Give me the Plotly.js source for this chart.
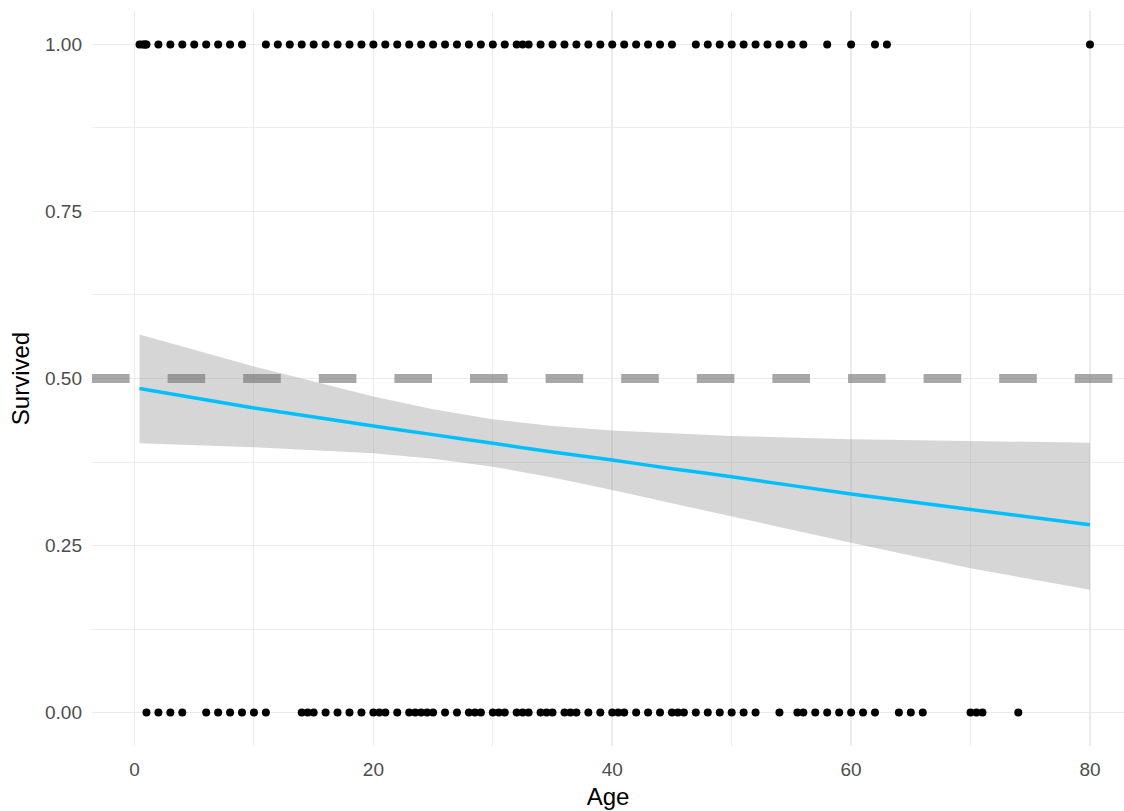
<!DOCTYPE html>
<html>
<head>
<meta charset="utf-8">
<script src="https://cdn.plot.ly/plotly-3.0.1.min.js"></script>
<style>
  html, body { margin: 0; padding: 0; background: #ffffff; overflow: hidden; }
  #chart { width: 1124px; height: 811px; }
</style>
</head>
<body>
<div id="chart"></div>
<script>
// Observed passengers: age of survivors (Survived = 1)
const survivedAges = [0.42, 0.67, 0.83, 0.92, 1, 2, 3, 4, 5, 6, 7, 8, 9,
  11, 12, 13, 14, 15, 16, 17, 18, 19, 20, 21, 22, 23, 24, 25, 26, 27, 28, 29, 30, 31,
  32, 32.5, 33, 34, 35, 36, 37, 38, 39, 40, 41, 42, 43, 44, 45,
  47, 48, 49, 50, 51, 52, 53, 54, 55, 56, 58, 60, 62, 63, 80];
const survivedVals = survivedAges.map(() => 1);

// Observed passengers: age of non-survivors (Survived = 0)
const diedAges = [1, 2, 3, 4, 6, 7, 8, 9, 10, 11, 14, 14.5, 15, 16, 17, 18, 19,
  20, 20.5, 21, 22, 23, 23.5, 24, 24.5, 25, 26, 27, 28, 28.5, 29, 30, 30.5, 31,
  32, 32.5, 33, 34, 34.5, 35, 36, 36.5, 37, 38, 39, 40, 40.5, 41, 42, 43, 44,
  45, 45.5, 46, 47, 48, 49, 50, 51, 52, 54, 55.5, 56, 57, 58, 59, 60, 61, 62,
  64, 65, 66, 70, 70.5, 71, 74];
const diedVals = diedAges.map(() => 0);

// Logistic fit and its confidence band
const fitAges  = [0.42, 10, 20, 25, 30, 35, 40, 45, 50, 60, 70, 80];
const fitProb  = [0.485, 0.456, 0.429, 0.416, 0.403, 0.390, 0.378, 0.365, 0.353, 0.327, 0.304, 0.281];
const fitUpper = [0.566, 0.518, 0.473, 0.454, 0.439, 0.429, 0.422, 0.418, 0.414, 0.409, 0.407, 0.404];
const fitLower = [0.403, 0.397, 0.388, 0.380, 0.368, 0.352, 0.333, 0.313, 0.293, 0.254, 0.216, 0.184];

const refLevel = 0.5;
const xTicks = [0, 20, 40, 60, 80];
const yTicks = [0, 0.25, 0.5, 0.75, 1];
const yTickText = ['0.00', '0.25', '0.50', '0.75', '1.00'];

const traces = [
  { x: survivedAges, y: survivedVals, type: 'scatter', mode: 'markers',
    marker: { color: '#000000', size: 8 }, hoverinfo: 'x+y', showlegend: false },
  { x: diedAges, y: diedVals, type: 'scatter', mode: 'markers',
    marker: { color: '#000000', size: 8 }, hoverinfo: 'x+y', showlegend: false },
  { x: fitAges, y: fitLower, type: 'scatter', mode: 'lines',
    line: { width: 0, color: 'rgba(0,0,0,0)' }, hoverinfo: 'skip', showlegend: false },
  { x: fitAges, y: fitUpper, type: 'scatter', mode: 'lines', fill: 'tonexty',
    fillcolor: 'rgba(153,153,153,0.4)',
    line: { width: 0, color: 'rgba(0,0,0,0)' }, hoverinfo: 'skip', showlegend: false },
  { x: fitAges, y: fitProb, type: 'scatter', mode: 'lines',
    line: { color: '#00BFFF', width: 3.5, shape: 'spline', smoothing: 0.6 }, showlegend: false }
];

const gridMajor = '#EBEBEB';
const layout = {
  width: 1124, height: 811,
  margin: { l: 91.5, r: 0, t: 10.5, b: 64.5, pad: 0 },
  paper_bgcolor: '#ffffff', plot_bgcolor: '#ffffff',
  font: { family: 'Arial, "Liberation Sans", sans-serif', color: '#4D4D4D' },
  showlegend: false,
  xaxis: {
    range: [-3.56, 82.85], tickvals: xTicks, ticktext: xTicks.map(String),
    showgrid: true, gridcolor: gridMajor, gridwidth: 1.5,
    minor: { dtick: 10, tick0: 0, showgrid: true, gridcolor: gridMajor, gridwidth: 0.9 },
    zeroline: false, showline: false, ticks: '',
    tickfont: { size: 19, color: '#4D4D4D' },
    ticklabelstandoff: 10,
    title: { text: 'Age', font: { size: 24, color: '#000000' }, standoff: 9 },
    automargin: false
  },
  yaxis: {
    range: [-0.05, 1.05], tickvals: yTicks, ticktext: yTickText,
    showgrid: true, gridcolor: gridMajor, gridwidth: 1.5,
    minor: { dtick: 0.125, tick0: 0, showgrid: true, gridcolor: gridMajor, gridwidth: 0.9 },
    zeroline: false, showline: false, ticks: '',
    tickfont: { size: 19, color: '#4D4D4D' },
    ticklabelstandoff: 9,
    title: { text: 'Survived', font: { size: 24, color: '#000000' }, standoff: 8 },
    automargin: false
  },
  shapes: [
    { type: 'line', xref: 'paper', x0: 0, x1: 1, yref: 'y', y0: refLevel, y1: refLevel,
      layer: 'above',
      line: { color: 'rgba(110,110,110,0.6)', width: 9, dash: '37.6px,38px' } }
  ]
};

Plotly.newPlot('chart', traces, layout, { displayModeBar: false, staticPlot: true });
</script>
</body>
</html>
